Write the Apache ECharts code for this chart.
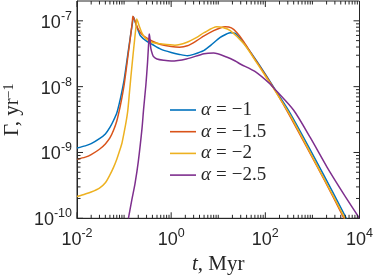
<!DOCTYPE html>
<html>
<head>
<meta charset="utf-8">
<script src="https://cdn.jsdelivr.net/npm/echarts@6/dist/echarts.min.js"></script>
<style>html,body{margin:0;padding:0;background:#fff;}#c{width:374px;height:280px;}</style>
</head>
<body>
<div id="c"></div>
<script>
// ---- data (t in Myr, Gamma in yr^-1) ----
const seriesNames = ['α = −1', 'α = −1.5', 'α = −2', 'α = −2.5'];
const colors = ['#0072BD', '#D95319', '#EDB120', '#7E2F8E'];

const tA1 = [0.01, 0.015, 0.02, 0.03, 0.04, 0.05, 0.06, 0.07, 0.08, 0.09, 0.1, 0.11, 0.12, 0.13, 0.14, 0.15, 0.158, 0.17, 0.18, 0.2, 0.22, 0.3, 0.4, 0.6, 1, 1.5, 2.2, 3, 5, 7, 11, 15, 18, 23, 35, 60, 100, 160, 340, 1700, 5250];
const gA1 = [1.17e-9, 1.26e-9, 1.36e-9, 1.62e-9, 1.91e-9, 2.4e-9, 3.09e-9, 3.98e-9, 5.75e-9, 8.5e-9, 1.26e-8, 2.0e-8, 3.1e-8, 4.6e-8, 6.6e-8, 9.1e-8, 1.15e-7, 1.0e-7, 8.7e-8, 7.1e-8, 6.0e-8, 4.9e-8, 4.37e-8, 3.72e-8, 3.31e-8, 3.09e-8, 2.95e-8, 3.09e-8, 3.55e-8, 4.27e-8, 5.6e-8, 6.3e-8, 6.6e-8, 6.45e-8, 4.57e-8, 2.69e-8, 1.55e-8, 9.1e-9, 3.9e-9, 4.7e-10, 1.0e-10];

const tA15 = [0.01, 0.015, 0.02, 0.03, 0.04, 0.05, 0.06, 0.07, 0.08, 0.09, 0.1, 0.11, 0.12, 0.13, 0.14, 0.15, 0.154, 0.165, 0.18, 0.2, 0.24, 0.3, 0.4, 0.6, 1, 1.5, 2.2, 3.5, 5, 8, 11, 14, 19, 25, 35, 56, 100, 160, 340, 1700, 4700];
const gA15 = [7.9e-10, 8.5e-10, 9.3e-10, 1.12e-9, 1.35e-9, 1.66e-9, 2.19e-9, 3.0e-9, 4.5e-9, 6.8e-9, 1.05e-8, 1.74e-8, 2.82e-8, 4.37e-8, 6.6e-8, 9.8e-8, 1.17e-7, 1.05e-7, 8.9e-8, 7.4e-8, 6.2e-8, 5.5e-8, 4.9e-8, 4.37e-8, 4.07e-8, 3.98e-8, 4.17e-8, 5.0e-8, 5.9e-8, 7.1e-8, 7.8e-8, 8.1e-8, 7.8e-8, 6.6e-8, 4.8e-8, 2.82e-8, 1.51e-8, 8.9e-9, 3.47e-9, 4.1e-10, 1.0e-10];

const tA2 = [0.01, 0.015, 0.02, 0.03, 0.04, 0.05, 0.06, 0.07, 0.08, 0.09, 0.1, 0.11, 0.12, 0.13, 0.14, 0.15, 0.16, 0.17, 0.18, 0.186, 0.2, 0.21, 0.24, 0.28, 0.4, 0.6, 1.2, 2.1, 3.5, 5, 9.3, 12.5, 18, 35, 66, 100, 160, 340, 1700, 4900];
const gA2 = [2.14e-10, 2.34e-10, 2.51e-10, 2.88e-10, 3.47e-10, 4.57e-10, 6.0e-10, 7.9e-10, 1.05e-9, 1.38e-9, 2.0e-9, 2.88e-9, 4.37e-9, 8.1e-9, 1.45e-8, 2.4e-8, 3.8e-8, 5.75e-8, 8.5e-8, 1.07e-7, 9.3e-8, 8.3e-8, 6.5e-8, 5.5e-8, 4.68e-8, 4.47e-8, 4.27e-8, 4.68e-8, 5.6e-8, 6.6e-8, 8.1e-8, 7.9e-8, 7.1e-8, 4.47e-8, 2.29e-8, 1.45e-8, 8.7e-9, 3.63e-9, 4.2e-10, 1.0e-10];

const tA25 = [0.1236, 0.146, 0.171, 0.2, 0.24, 0.26, 0.29, 0.315, 0.34, 0.345, 0.37, 0.4, 0.42, 0.5, 0.7, 1, 2.1, 5, 8, 15, 23, 30, 60, 126, 160, 400, 910, 2040, 4700, 10000];
const gA25 = [1.0e-10, 1.9e-10, 3.4e-10, 7.2e-10, 2.3e-9, 4.6e-9, 1.05e-8, 2.34e-8, 6.0e-8, 6.3e-8, 3.8e-8, 3.1e-8, 2.88e-8, 2.63e-8, 2.51e-8, 2.45e-8, 2.63e-8, 3.16e-8, 3.24e-8, 2.82e-8, 2.45e-8, 2.19e-8, 1.70e-8, 1.10e-8, 9.1e-9, 4.37e-9, 1.66e-9, 6.0e-10, 2.29e-10, 1.0e-10];

// axis ranges and tick values
const xMin = 0.01, xMax = 10000;
const yMin = 1e-10, yMax = 2e-7;
const xMajorTicks = [1e-2, 1e0, 1e2, 1e4];
const yMajorTicks = [1e-10, 1e-9, 1e-8, 1e-7];
const mantissas = [2, 3, 4, 5, 6, 7, 8, 9];
const xDecades = [1e-2, 1e-1, 1e0, 1e1, 1e2, 1e3];
const yDecades = [1e-10, 1e-9, 1e-8];
const xMinorTicks = [1e-1, 1e1, 1e3];
xDecades.forEach(d => mantissas.forEach(m => xMinorTicks.push(m * d)));
const yMinorTicks = [];
yDecades.forEach(d => mantissas.forEach(m => yMinorTicks.push(m * d)));

const zip = (a, b) => a.map((v, i) => [v, b[i]]);
const dataSets = [zip(tA1, gA1), zip(tA15, gA15), zip(tA2, gA2), zip(tA25, gA25)];

const axisColor = '#262626';

function expOf(v) {
  const l = Math.log10(v);
  const e = Math.round(l);
  if (Math.abs(l - e) > 1e-6) return null;
  return e;
}
const richLabel = {
  b: { fontFamily: 'Liberation Sans', fontSize: 18, color: axisColor, lineHeight: 22, verticalAlign: 'bottom' },
  s: { fontFamily: 'Liberation Sans', fontSize: 12.5, color: axisColor, lineHeight: 14, verticalAlign: 'top' }
};

function renderTicks(params, api) {
  const children = [];
  const bl = api.coord([xMin, yMin]);
  const tr = api.coord([xMax, yMax]);
  const style = { stroke: axisColor, lineWidth: 1 };
  const add = (x1, y1, x2, y2) => children.push({ type: 'line', shape: { x1, y1, x2, y2 }, style });
  const MAJ = 6, MIN = 3.5;
  xMajorTicks.forEach(v => { const x = api.coord([v, yMin])[0]; add(x, bl[1], x, bl[1] - MAJ); add(x, tr[1], x, tr[1] + MAJ); });
  xMinorTicks.forEach(v => { const x = api.coord([v, yMin])[0]; add(x, bl[1], x, bl[1] - MIN); add(x, tr[1], x, tr[1] + MIN); });
  yMajorTicks.forEach(v => { const y = api.coord([xMin, v])[1]; add(bl[0], y, bl[0] + MAJ, y); add(tr[0], y, tr[0] - MAJ, y); });
  yMinorTicks.forEach(v => { const y = api.coord([xMin, v])[1]; add(bl[0], y, bl[0] + MIN, y); add(tr[0], y, tr[0] - MIN, y); });
  return { type: 'group', children };
}

const chart = echarts.init(document.getElementById('c'), null, { renderer: 'canvas' });

const lineSeries = seriesNames.map((n, i) => ({
  name: n,
  type: 'line',
  data: dataSets[i],
  showSymbol: false,
  symbol: 'none',
  smooth: 0.25,
  clip: true,
  lineStyle: { width: 1.5, color: colors[i] },
  itemStyle: { color: colors[i] },
  z: 2 + i
}));

const serif = 'Liberation Serif';
chart.setOption({
  animation: false,
  backgroundColor: '#fff',
  grid: { left: 77, top: 1, right: 14.5, bottom: 61.7, show: true, borderColor: axisColor, borderWidth: 1, backgroundColor: 'transparent', outerBoundsMode: 'none', containLabel: false },
  legend: {
    data: seriesNames,
    orient: 'vertical',
    left: 170,
    top: 100,
    padding: 0,
    icon: 'rect',
    itemWidth: 26,
    itemHeight: 1.6,
    itemGap: 1.7,
    formatter: name => { const p = name.split(' = '); return '{a|' + p[0] + '}{e|=}{v|' + p[1] + '}'; },
    textStyle: {
      fontFamily: serif, fontSize: 19, color: axisColor, lineHeight: 20,
      rich: {
        a: { fontFamily: serif, fontStyle: 'italic', fontSize: 19, color: axisColor, lineHeight: 20 },
        e: { fontFamily: serif, fontSize: 19, color: axisColor, lineHeight: 20, padding: [0, 5, 0, 5] },
        v: { fontFamily: serif, fontSize: 19, color: axisColor, lineHeight: 20 }
      }
    }
  },
  xAxis: {
    type: 'log', logBase: 10, min: xMin, max: xMax, splitNumber: 6,
    axisLine: { show: true, lineStyle: { color: axisColor, width: 1 } },
    axisTick: { show: false },
    splitLine: { show: false },
    minorTick: { show: false },
    axisLabel: {
      margin: 9,
      formatter: v => { const e = expOf(v); if (e === null || e % 2 !== 0) return ''; return '{b|10}{s|' + e + '}'; },
      rich: richLabel
    },
    name: '{i|t}, Myr',
    nameLocation: 'middle',
    nameGap: 34,
    nameTextStyle: {
      fontFamily: serif, fontSize: 21, color: axisColor, verticalAlign: 'top',
      rich: { i: { fontFamily: serif, fontStyle: 'italic', fontSize: 21, color: axisColor } }
    }
  },
  yAxis: {
    type: 'log', logBase: 10, min: yMin, max: yMax, splitNumber: 5,
    axisLine: { show: true, lineStyle: { color: axisColor, width: 1 } },
    axisTick: { show: false },
    splitLine: { show: false },
    minorTick: { show: false },
    axisLabel: {
      margin: 5,
      formatter: v => { const e = expOf(v); if (e === null) return ''; return '{b|10}{s|' + e + '}'; },
      rich: richLabel
    },
    name: 'Γ, yr{s|−1}',
    nameLocation: 'middle',
    nameGap: 53,
    nameRotate: 90,
    nameTextStyle: {
      fontFamily: serif, fontSize: 21, color: axisColor,
      rich: { s: { fontFamily: serif, fontSize: 14, color: axisColor, verticalAlign: 'top', lineHeight: 12 } }
    }
  },
  series: lineSeries.concat([{
    type: 'custom',
    coordinateSystem: 'cartesian2d',
    renderItem: renderTicks,
    data: [[1, 1e-9]],
    silent: true,
    clip: false,
    z: 10
  }])
});
</script>
</body>
</html>
